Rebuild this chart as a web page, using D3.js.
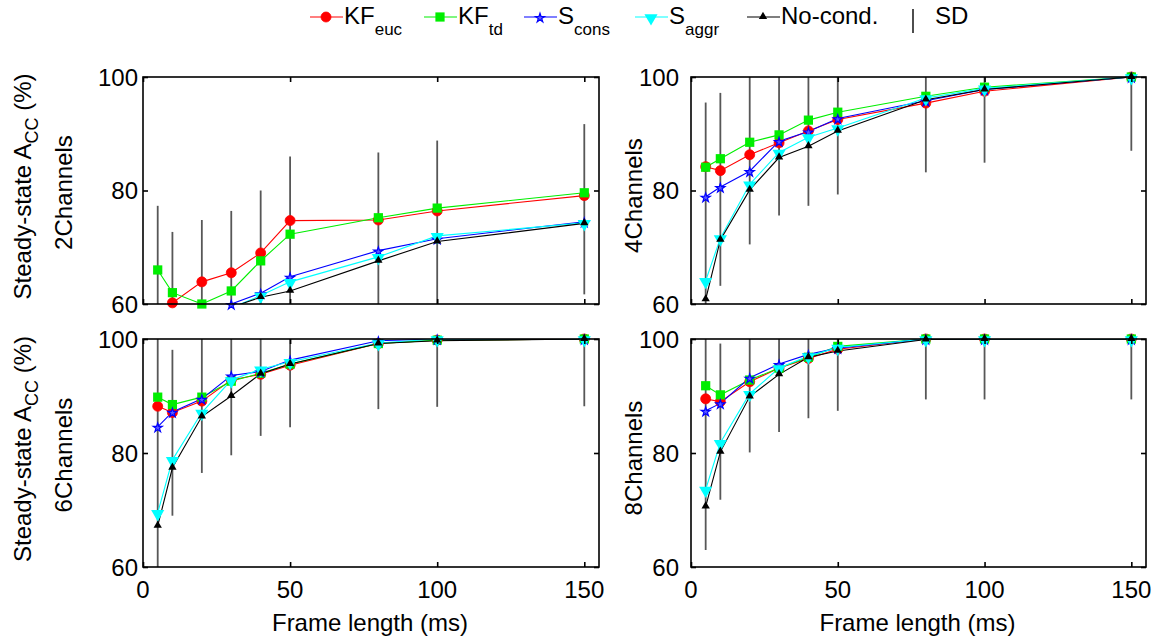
<!DOCTYPE html>
<html>
<head>
<meta charset="utf-8">
<script src="https://cdn.jsdelivr.net/npm/d3@7"></script>
<style>
  html, body { margin: 0; padding: 0; background: #fff; }
  svg { display: block; font-family: "Liberation Sans", Arial, sans-serif; }
</style>
</head>
<body>
<svg id="chart" width="1156" height="641"></svg>
<script>
// ---------------- DATA ----------------
const frameLengths = [5, 10, 20, 30, 40, 50, 80, 100, 150];
const panelNames = ["2Channels", "4Channels", "6Channels", "8Channels"];
const xTicks = [0, 50, 100, 150];
const yTicks = [60, 80, 100];

// one row per panel (2, 4, 6, 8 channels)
const kfEuc = [
  [55.0, 60.2, 63.9, 65.5, 69.0, 74.7, 74.8, 76.4, 79.1],
  [84.2, 83.5, 86.3, 88.4, 90.5, 92.5, 95.4, 97.5, 100.0],
  [88.2, 87.1, 89.1, 92.8, 93.8, 95.4, 99.2, 99.8, 100.0],
  [89.5, 89.0, 92.5, 94.9, 96.6, 98.2, 100.0, 100.0, 100.0]
];
const kfTd = [
  [66.0, 62.0, 60.0, 62.3, 67.6, 72.3, 75.2, 76.9, 79.6],
  [84.1, 85.6, 88.5, 89.8, 92.4, 93.8, 96.6, 98.2, 100.0],
  [89.8, 88.5, 89.8, 92.6, 94.0, 95.6, 99.2, 99.8, 100.0],
  [91.8, 90.2, 92.8, 94.9, 96.8, 98.7, 100.0, 100.0, 100.0]
];
const sCons = [
  [54.0, 55.0, 57.0, 60.0, 61.9, 64.8, 69.4, 71.5, 74.5],
  [78.9, 80.6, 83.4, 88.7, 90.4, 92.7, 95.8, 97.8, 100.0],
  [84.6, 87.2, 89.5, 93.6, 94.3, 96.3, 99.7, 100.0, 100.0],
  [87.4, 88.7, 93.2, 95.6, 97.3, 98.4, 100.0, 100.0, 100.0]
];
const sAggr = [
  [53.0, 54.0, 56.0, 59.3, 61.5, 63.9, 68.3, 72.0, 74.3],
  [64.1, 71.6, 81.1, 86.7, 89.4, 91.0, 96.3, 98.0, 100.0],
  [69.5, 78.8, 87.1, 92.8, 94.7, 96.0, 99.3, 100.0, 100.0],
  [73.6, 81.8, 90.4, 94.9, 97.0, 98.5, 100.0, 100.0, 100.0]
];
const noCond = [
  [52.0, 53.0, 55.0, 59.4, 61.2, 62.3, 67.6, 71.0, 74.2],
  [60.8, 71.3, 80.1, 85.8, 87.8, 90.5, 96.0, 97.8, 100.0],
  [67.2, 77.4, 86.4, 90.0, 93.9, 95.6, 99.2, 99.7, 100.0],
  [70.6, 80.2, 89.9, 93.8, 96.8, 97.9, 99.9, 100.0, 100.0]
];
// SD bar extents (low / high ends)
const sdLow = [
  [55, 55, 55, 55, 55, 55, 55, 55, 61.7],
  [55, 63.2, 70.5, 75.6, 77.3, 79.3, 83.2, 84.9, 87.0],
  [55, 69.0, 76.5, 79.6, 83.0, 84.5, 87.7, 88.1, 88.2],
  [63.0, 71.8, 80.1, 83.7, 86.1, 87.4, 89.4, 89.4, 89.4]
];
const sdHigh = [
  [77.3, 72.7, 74.8, 76.4, 80.0, 86.0, 86.7, 88.8, 91.7],
  [95.5, 97.2, 110, 110, 110, 110, 110, 110, 110],
  [110, 98.1, 110, 110, 110, 110, 110, 110, 110],
  [110, 99.2, 110, 110, 110, 110, 110, 110, 110]
];

const seriesNames = ["KF", "KF", "S", "S", "No-cond."];
const seriesSubs = ["euc", "td", "cons", "aggr", ""];

// ---------------- STYLE / LAYOUT ----------------
const seriesDefs = [
  { data: kfEuc, color: "#ff0000", marker: "circle" },
  { data: kfTd, color: "#00ee00", marker: "square" },
  { data: sCons, color: "#0000ff", marker: "star" },
  { data: sAggr, color: "#00ffff", marker: "tdown" },
  { data: noCond, color: "#000000", marker: "tup" }
];
const panelBoxes = [
  { x0: 143, x1: 599, y0: 77, y1: 304, left: true, bottom: false },
  { x0: 691, x1: 1146, y0: 77, y1: 304, left: false, bottom: false },
  { x0: 143, x1: 599, y0: 339, y1: 567, left: true, bottom: true },
  { x0: 691, x1: 1146, y0: 339, y1: 567, left: false, bottom: true }
];
const FONT = 24;
const svg = d3.select("#chart");

function drawMarker(g, type, color, cx, cy) {
  if (type === "circle") {
    g.append("circle").attr("cx", cx).attr("cy", cy).attr("r", 5)
      .attr("fill", color).attr("stroke", color).attr("stroke-width", 0.8);
  } else if (type === "square") {
    g.append("path").attr("d", d3.symbol(d3.symbolSquare, 85)())
      .attr("transform", `translate(${cx},${cy})`).attr("fill", color);
  } else if (type === "star") {
    g.append("path").attr("d", d3.symbol(d3.symbolStar, 26)())
      .attr("transform", `translate(${cx},${cy + 1})`)
      .attr("fill", "#5a5aff").attr("stroke", color).attr("stroke-width", 1.2);
  } else if (type === "tdown") {
    g.append("path").attr("d", d3.symbol(d3.symbolTriangle, 75)())
      .attr("transform", `translate(${cx},${cy + 1}) rotate(180)`).attr("fill", color);
  } else if (type === "tup") {
    g.append("path").attr("d", d3.symbol(d3.symbolTriangle, 30)())
      .attr("transform", `translate(${cx},${cy - 0.5})`).attr("fill", color);
  }
}

panelBoxes.forEach((b, pi) => {
  const x = d3.scaleLinear().domain([0, 155]).range([b.x0, b.x1]);
  const y = d3.scaleLinear().domain([60, 100]).range([b.y1, b.y0]);
  const g = svg.append("g");
  const clipId = "clip" + pi;
  svg.append("clipPath").attr("id", clipId).append("rect")
    .attr("x", b.x0).attr("y", b.y0).attr("width", b.x1 - b.x0).attr("height", b.y1 - b.y0);

  // SD bars
  const sdG = g.append("g").attr("clip-path", `url(#${clipId})`);
  frameLengths.forEach((f, i) => {
    sdG.append("line")
      .attr("x1", x(f)).attr("x2", x(f))
      .attr("y1", y(sdLow[pi][i])).attr("y2", y(sdHigh[pi][i]))
      .attr("stroke", "#3a3a3a").attr("stroke-opacity", 0.85).attr("stroke-width", 1.8);
  });

  // lines
  const lineG = g.append("g").attr("clip-path", `url(#${clipId})`);
  const lineGen = d3.line().x((d, i) => x(frameLengths[i])).y(d => y(d));
  seriesDefs.forEach(s => {
    lineG.append("path").attr("d", lineGen(s.data[pi]))
      .attr("fill", "none").attr("stroke", s.color).attr("stroke-width", 1.1);
  });

  // markers (only inside y range)
  const mG = g.append("g");
  seriesDefs.forEach(s => {
    s.data[pi].forEach((v, i) => {
      if (v >= 59.8 && v <= 100.5) drawMarker(mG, s.marker, s.color, x(frameLengths[i]), y(v));
    });
  });

  // box
  g.append("rect").attr("x", b.x0).attr("y", b.y0)
    .attr("width", b.x1 - b.x0).attr("height", b.y1 - b.y0)
    .attr("fill", "none").attr("stroke", "#000").attr("stroke-width", 1.6);

  // ticks (inward, all sides) via d3 axes
  const axL = d3.axisLeft(y).tickValues(yTicks).tickSize(-5).tickFormat("");
  const axR = d3.axisRight(y).tickValues(yTicks).tickSize(-5).tickFormat("");
  const axB = d3.axisBottom(x).tickValues(xTicks).tickSize(-5).tickFormat("");
  const axT = d3.axisTop(x).tickValues(xTicks).tickSize(-5).tickFormat("");
  [[axL, `translate(${b.x0},0)`], [axR, `translate(${b.x1},0)`],
   [axB, `translate(0,${b.y1})`], [axT, `translate(0,${b.y0})`]].forEach(([ax, tr]) => {
    const a = g.append("g").attr("transform", tr).call(ax);
    a.select(".domain").remove();
    a.selectAll("line").attr("stroke", "#000").attr("stroke-width", 1.6);
  });

  // y tick labels
  const labelRight = b.left ? 138 : 679;
  yTicks.forEach(t => {
    g.append("text").attr("x", labelRight).attr("y", y(t) + 8.5)
      .attr("text-anchor", "end").attr("font-size", FONT).attr("fill", "#000").text(t);
  });

  // x tick labels & title on bottom row
  if (b.bottom) {
    xTicks.forEach(t => {
      g.append("text").attr("x", x(t)).attr("y", 598)
        .attr("text-anchor", "middle").attr("font-size", FONT).text(t);
    });
    g.append("text").attr("x", (b.x0 + b.x1) / 2 - 1).attr("y", 631)
      .attr("text-anchor", "middle").attr("font-size", FONT).text("Frame length (ms)");
  }

  // y titles
  const cy = (b.y0 + b.y1) / 2;
  if (b.left) {
    const t = g.append("text").attr("transform", `translate(31,${cy - 4}) rotate(-90)`)
      .attr("text-anchor", "middle").attr("font-size", FONT);
    t.append("tspan").text("Steady-state A");
    t.append("tspan").attr("dy", 7).attr("font-size", 18).text("CC");
    t.append("tspan").attr("dy", -7).text("  (%)");
    g.append("text").attr("transform", `translate(72,${cy + 2}) rotate(-90)`)
      .attr("text-anchor", "middle").attr("font-size", FONT).text(panelNames[pi]);
  } else {
    g.append("text").attr("transform", `translate(642,${cy + 5}) rotate(-90)`)
      .attr("text-anchor", "middle").attr("font-size", FONT).text(panelNames[pi]);
  }
});

// ---------------- LEGEND ----------------
const legendX = [310, 424, 524, 635, 747];
const leg = svg.append("g");
seriesDefs.forEach((s, i) => {
  const lx = legendX[i];
  leg.append("line").attr("x1", lx).attr("x2", lx + 33).attr("y1", 17).attr("y2", 17)
    .attr("stroke", s.color).attr("stroke-width", 1.1);
  drawMarker(leg, s.marker, s.color, lx + 16, 17);
  const t = leg.append("text").attr("x", lx + 34).attr("y", 24).attr("font-size", FONT);
  t.append("tspan").text(seriesNames[i]);
  if (seriesSubs[i]) t.append("tspan").attr("dy", 11).attr("font-size", 17).text(seriesSubs[i]);
});
leg.append("line").attr("x1", 913).attr("x2", 913).attr("y1", 9).attr("y2", 33)
  .attr("stroke", "#3a3a3a").attr("stroke-width", 1.8);
leg.append("text").attr("x", 935).attr("y", 24).attr("font-size", FONT).text("SD");
</script>
</body>
</html>
